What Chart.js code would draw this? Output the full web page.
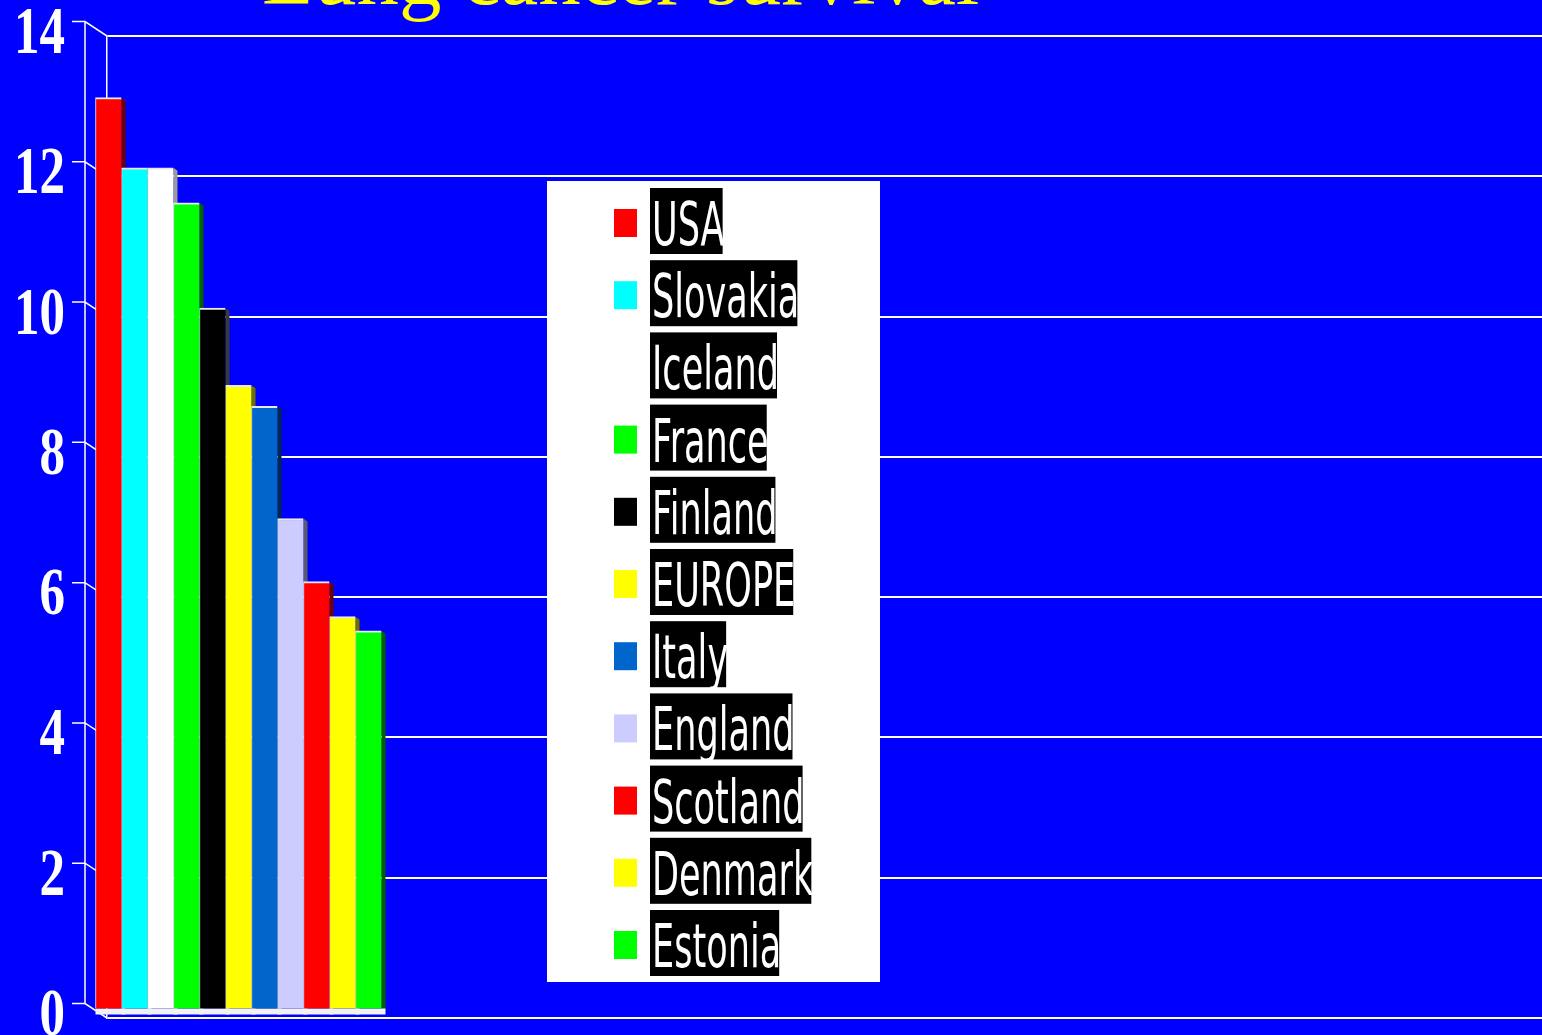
<!DOCTYPE html>
<html>
<head>
<meta charset="utf-8">
<script src="https://cdn.jsdelivr.net/npm/chart.js@4.4.0/dist/chart.umd.min.js"></script>
<style>
  html, body { margin: 0; padding: 0; background: #0000ff; overflow: hidden; }
</style>
</head>
<body>
<canvas id="survivalChart" width="1542" height="1035"></canvas>
<script>
const chartTitle = "Lung cancer survival";
const countries = ["USA", "Slovakia", "Iceland", "France", "Finland", "EUROPE", "Italy", "England", "Scotland", "Denmark", "Estonia"];
const survival = [13, 12, 12, 11.5, 10, 8.9, 8.6, 7, 6.1, 5.6, 5.4];
const barColors = ["#ff0000", "#00ffff", "#ffffff", "#00ff00", "#000000", "#ffff00", "#0066cc", "#ccccff", "#ff0000", "#ffff00", "#00ff00"];
const sideColors = ["#6a0000", "#007272", "#9a9a9a", "#006000", "#3a3a3a", "#707000", "#00264d", "#5a5a70", "#6a0000", "#707000", "#006000"];
const yTicks = { min: 0, max: 14, step: 2 };

// bars stand a little in front of the back wall, the value axis further forward
const barPlane = { dx: -12, dy: -8.5 };
const frontPlane = { dx: -22, dy: -14.5 };

const depthAxis = {
  id: 'depthAxis',
  beforeDatasetsDraw(chart) {
    const { ctx, chartArea } = chart;
    const y = chart.scales.y;
    const fx = chartArea.left + frontPlane.dx;

    ctx.save();
    ctx.strokeStyle = '#ffffff';
    ctx.lineWidth = 1.5;
    ctx.beginPath();
    ctx.moveTo(fx, y.getPixelForValue(y.max) + frontPlane.dy);
    ctx.lineTo(fx, y.getPixelForValue(y.min) + frontPlane.dy);
    y.ticks.forEach(t => {
      const yb = y.getPixelForValue(t.value);
      ctx.moveTo(fx - 13, yb + frontPlane.dy);
      ctx.lineTo(fx, yb + frontPlane.dy);
      ctx.lineTo(chartArea.left, yb);
    });
    ctx.stroke();

    ctx.fillStyle = '#ffffff';
    ctx.font = 'bold 68px "Liberation Serif"';
    ctx.textAlign = 'right';
    ctx.textBaseline = 'alphabetic';
    y.ticks.forEach(t => {
      const yb = y.getPixelForValue(t.value);
      ctx.save();
      ctx.translate(65, yb + 17);
      ctx.scale(0.75, 1);
      ctx.fillText(t.label, 0, 0);
      ctx.restore();
    });
    ctx.restore();

    // move into the bar plane, then draw side faces and bottoms under the fronts
    ctx.save();
    ctx.translate(barPlane.dx, barPlane.dy);
    chart.getSortedVisibleDatasetMetas().forEach(meta => {
      meta.data.forEach(bar => {
        const right = bar.x + bar.width / 2;
        const left = bar.x - bar.width / 2;
        ctx.fillStyle = sideColors[meta.index];
        ctx.beginPath();
        ctx.moveTo(right, bar.y);
        ctx.lineTo(right + 4, bar.y + 3);
        ctx.lineTo(right + 4, bar.base + 3);
        ctx.lineTo(right, bar.base);
        ctx.closePath();
        ctx.fill();
        ctx.fillStyle = '#f2f2f2';
        ctx.fillRect(left, bar.base, right + 4 - left, 6);
      });
    });
  },
  afterDatasetsDraw(chart) {
    chart.ctx.restore();
  }
};

const boxLegend = {
  id: 'boxLegend',
  afterDraw(chart) {
    const { ctx } = chart;
    const firstRow = 221, pitch = 72.2, squeeze = 0.585;
    ctx.save();
    ctx.fillStyle = '#ffffff';
    ctx.fillRect(547, 181, 333, 801);
    ctx.font = '60px "DejaVu Sans"';
    ctx.textBaseline = 'alphabetic';
    ctx.textAlign = 'left';
    chart.data.datasets.forEach((ds, i) => {
      const cy = firstRow + i * pitch;
      ctx.fillStyle = ds.backgroundColor;
      ctx.fillRect(614, cy - 12, 23, 28);
      const w = ctx.measureText(ds.label).width * squeeze;
      ctx.fillStyle = '#000000';
      ctx.fillRect(650, cy - 33, w, 66);
      ctx.save();
      ctx.translate(652, cy + 24);
      ctx.scale(squeeze, 1);
      ctx.fillStyle = '#ffffff';
      ctx.fillText(ds.label, 0, 0);
      ctx.restore();
    });
    ctx.restore();
  }
};

const slideTitle = {
  id: 'slideTitle',
  afterDraw(chart) {
    const { ctx } = chart;
    ctx.save();
    ctx.fillStyle = '#ffff00';
    ctx.font = '85px "Liberation Serif"';
    ctx.textBaseline = 'alphabetic';
    ctx.fillText(chartTitle, 262, 4);
    ctx.restore();
  }
};

new Chart(document.getElementById('survivalChart'), {
  type: 'bar',
  data: {
    datasets: countries.map((name, i) => ({
      label: name,
      data: [{ x: 0, y: survival[i] }],
      backgroundColor: barColors[i],
      borderColor: '#e8e8e8',
      borderWidth: { top: 2, left: 1, right: 0, bottom: 0 },
      borderSkipped: false,
      barThickness: 26,
      clip: false
    }))
  },
  options: {
    responsive: false,
    animation: false,
    devicePixelRatio: 1,
    layout: { padding: { left: 107, top: 36, right: 0, bottom: 17 } },
    scales: {
      x: {
        type: 'linear',
        offset: false,
        min: -0.5,
        max: 4.5,
        display: false
      },
      y: {
        min: yTicks.min,
        max: yTicks.max,
        afterFit(scale) { scale.width = 0; },
        ticks: { stepSize: yTicks.step, display: false },
        grid: { color: '#ffffff', lineWidth: 2, drawTicks: false },
        border: { display: true, color: '#ffffff', width: 1.5 }
      }
    },
    plugins: {
      legend: { display: false },
      title: { display: false },
      tooltip: { enabled: false }
    }
  },
  plugins: [depthAxis, boxLegend, slideTitle]
});
</script>
</body>
</html>
